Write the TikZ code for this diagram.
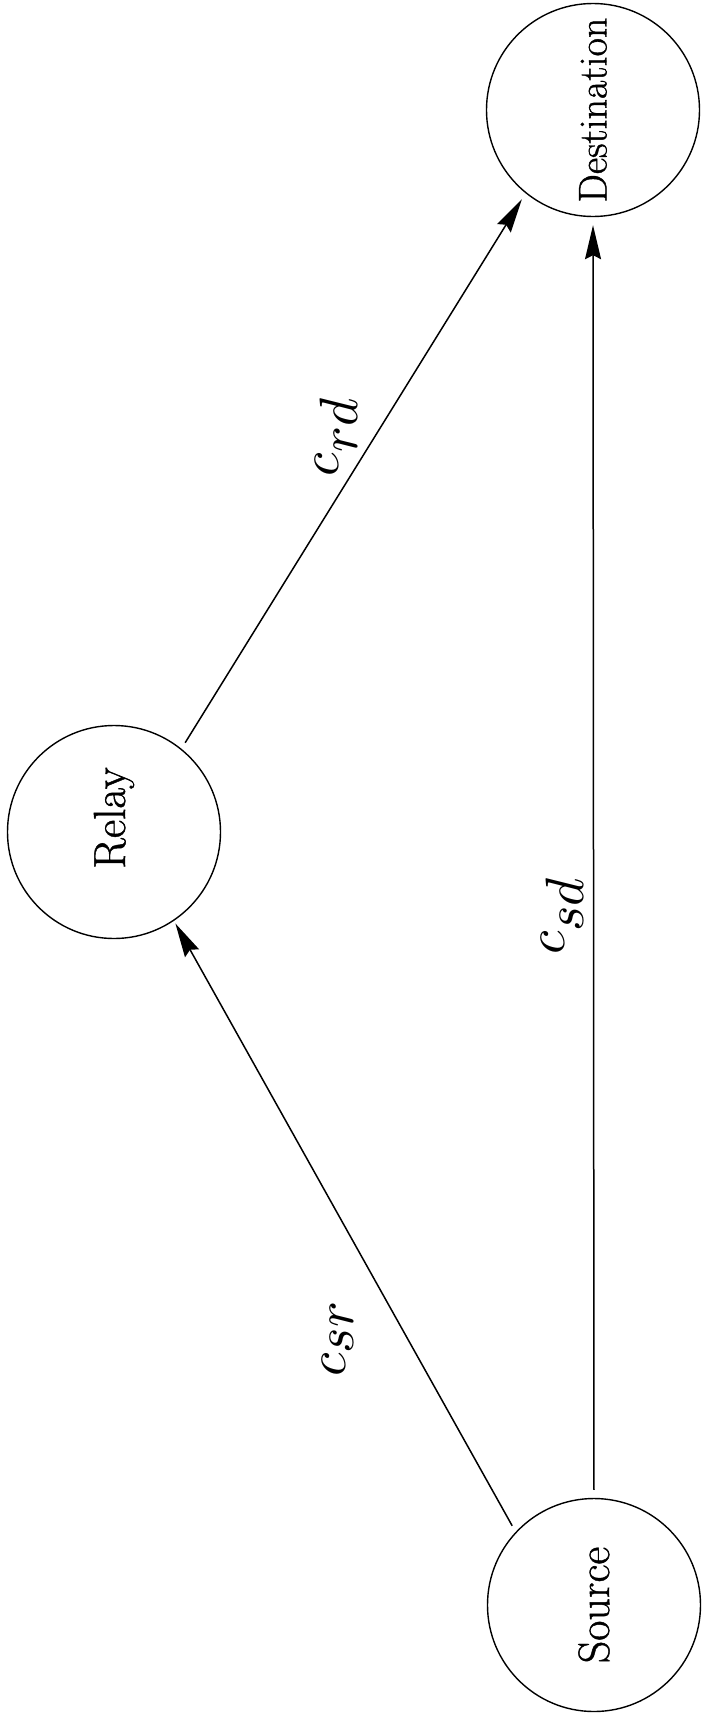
\documentclass[tikz,border=0pt]{standalone}
\usepackage{fontspec}
\newfontfamily\lmr{Latin Modern Roman}[FakeBold=1]
\usetikzlibrary{arrows.meta}
\tikzset{
  station/.style={circle, draw=black, line width=1.4pt, minimum size=213pt, inner sep=0pt},
  link/.style={draw=black, line width=1.5pt, -{Stealth[length=34pt,width=16pt,inset=4pt]}},
  chan/.style={inner sep=0pt, scale=5.4}
}
\begin{document}
\begin{tikzpicture}[x=1pt,y=-1pt]
\useasboundingbox[fill=white] (0,0) rectangle (703,1714);
\node[station] (D) at (593,110) {\rotatebox{90}{\lmr\fontsize{40}{46}\selectfont Destination}};
\node[station] (R) at (114,832) {\rotatebox{90}{\lmr\fontsize{45}{50}\selectfont\hspace{28pt}Relay}};
\node[station] (S) at (594,1605) {\rotatebox{90}{\lmr\fontsize{44}{50}\selectfont Source}};
\draw[link, shorten <=7pt, shorten >=7pt] (R.51) -- (D.231);
\draw[link, shorten <=7pt, shorten >=3pt] (S.137) -- (R.304);
\draw[link, shorten <=8pt, shorten >=8pt] (S.north) -- (D.south);
\node[chan] (lrd) at (336,436) {\rotatebox{90}{$c_{\textstyle rd}$}};
\node[chan] (lsr) at (338,1338) {\rotatebox{90}{$c_{\textstyle sr}$}};
\node[chan] (lsd) at (562,915) {\rotatebox{90}{$c_{\textstyle sd}$}};
\end{tikzpicture}
\end{document}
